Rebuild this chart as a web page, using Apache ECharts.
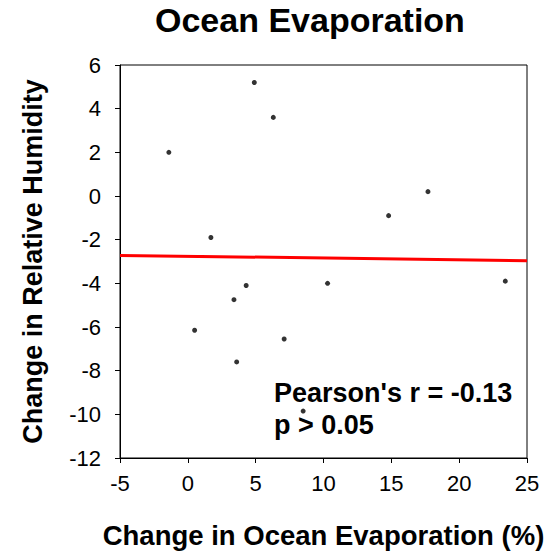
<!DOCTYPE html>
<html>
<head>
<meta charset="utf-8">
<script src="https://cdn.jsdelivr.net/npm/echarts@6/dist/echarts.min.js"></script>
<style>
  html, body { margin: 0; padding: 0; background: #fff; }
  #chart { width: 560px; height: 557px; }
</style>
</head>
<body>
<div id="chart"></div>
<script>
// scatter points
let evapX = [-1.4, 1.7, 4.9, 6.3, 14.8, 17.7, 4.3, 3.4, 10.3, 23.4, 0.5, 7.1, 3.6, 8.5];
let humidY = [2.0, -1.9, 5.2, 3.6, -0.9, 0.2, -4.1, -4.75, -4.0, -3.9, -6.15, -6.55, -7.6, -9.85];
// regression line end points
let fitX = [-5, 25];
let fitY = [-2.72, -2.96];
let statLines = ["Pearson's r = -0.13", "p > 0.05"];

let FONT = 'Liberation Sans, Arial, sans-serif';

let chart = echarts.init(document.getElementById('chart'), null, {renderer: 'svg'});

let option = {
    backgroundColor: '#fff',
    animation: false,
    title: {
        text: 'Ocean Evaporation',
        left: 155,
        top: 3,
        padding: 0,
        textStyle: {
            fontFamily: FONT,
            fontWeight: 'bold',
            fontSize: 34,
            color: '#000'
        }
    },
    grid: {
        left: 120,
        top: 65,
        right: 33,
        bottom: 99,
        show: true,
        borderColor: '#000',
        borderWidth: 1
    },
    xAxis: {
        type: 'value',
        min: -5,
        max: 25,
        interval: 5,
        name: 'Change in Ocean Evaporation (%)',
        nameLocation: 'middle',
        nameGap: 63,
        nameTextStyle: {
            fontFamily: FONT,
            fontWeight: 'bold',
            fontSize: 27.5,
            color: '#000'
        },
        axisLine: { show: true, onZero: false, lineStyle: { color: '#000', width: 1 } },
        axisTick: { show: true, length: 5, lineStyle: { color: '#000' } },
        axisLabel: { fontFamily: FONT, fontSize: 22, color: '#000', margin: 14 },
        splitLine: { show: false }
    },
    yAxis: {
        type: 'value',
        min: -12,
        max: 6,
        interval: 2,
        name: 'Change in Relative Humidity',
        nameLocation: 'middle',
        nameGap: 74,
        nameTextStyle: {
            fontFamily: FONT,
            fontWeight: 'bold',
            fontSize: 27,
            color: '#000'
        },
        axisLine: { show: true, onZero: false, lineStyle: { color: '#000', width: 1 } },
        axisTick: { show: true, length: 5, lineStyle: { color: '#000' } },
        axisLabel: { fontFamily: FONT, fontSize: 22, color: '#000', margin: 19 },
        splitLine: { show: false }
    },
    series: [
        {
            name: 'fit',
            type: 'line',
            data: fitX.map((x, i) => [x, fitY[i]]),
            showSymbol: false,
            lineStyle: { color: '#ff0000', width: 3 },
            z: 2
        },
        {
            name: 'points',
            type: 'scatter',
            data: evapX.map((x, i) => [x, humidY[i]]),
            symbolSize: 5,
            itemStyle: { color: '#000' },
            z: 3
        }
    ],
    graphic: [
        {
            type: 'text',
            left: 274,
            top: 377,
            style: {
                text: statLines.join('\n'),
                fontFamily: FONT,
                fontWeight: 'bold',
                fontSize: 27,
                lineHeight: 32,
                fill: '#000'
            },
            z: 10
        }
    ]
};

chart.setOption(option);
</script>
</body>
</html>
